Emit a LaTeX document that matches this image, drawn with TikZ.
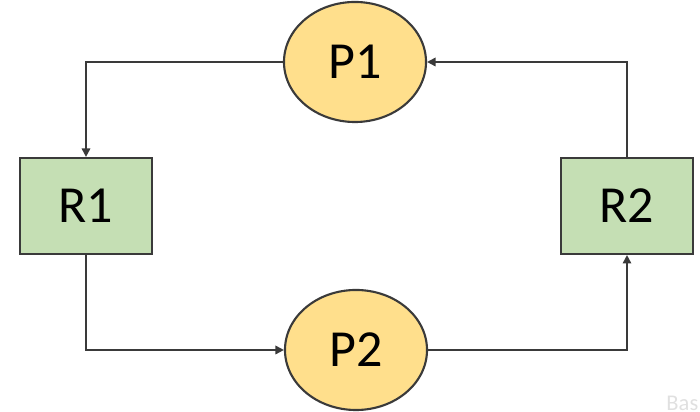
\documentclass[tikz,border=0pt]{standalone}
\usepackage{fontspec}
\setmainfont{Carlito}
\usetikzlibrary{arrows.meta}
\usetikzlibrary{
        shapes.geometric,
    }
\definecolor{procfill}{HTML}{FFDF8C}
\definecolor{resfill}{HTML}{C5DFB4}
\definecolor{edgegray}{HTML}{3A3A3A}

\begin{document}
\begin{tikzpicture}[x=0.025cm,y=0.025cm,font=\fontsize{37}{40}\selectfont,
        proc/.style={ellipse, draw=edgegray, line width=1.5pt, fill=procfill, minimum width=3.55cm, minimum height=3cm, inner sep=0pt},
        res/.style={rectangle, draw=edgegray, line width=1.5pt, fill=resfill, minimum width=3.3cm, minimum height=2.4cm, inner sep=0pt},
        link/.style={draw=edgegray, line width=1.3pt, -{Triangle[length=6pt,width=6pt]}}]
        \useasboundingbox (0,0) rectangle (700,412);
        \node [proc] (P1) at (355,350) {P1};
        \node [proc] (P2) at (356,62) {P2};
        \node [res] (R1) at (86,206) {R1};
        \node [res] (R2) at (627,206) {R2};
        \draw [link] (P1) -| (R1);
        \draw [link] (R1) |- (P2);
        \draw [link] (P2) -| (R2);
        \draw [link] (R2) |- (P1);
        % watermark in the corner
        \node [anchor=south east, inner sep=1pt, text=black!12, font=\fontsize{16}{18}\selectfont] (wm) at (700,0) {Bas};
    \end{tikzpicture}
\end{document}
